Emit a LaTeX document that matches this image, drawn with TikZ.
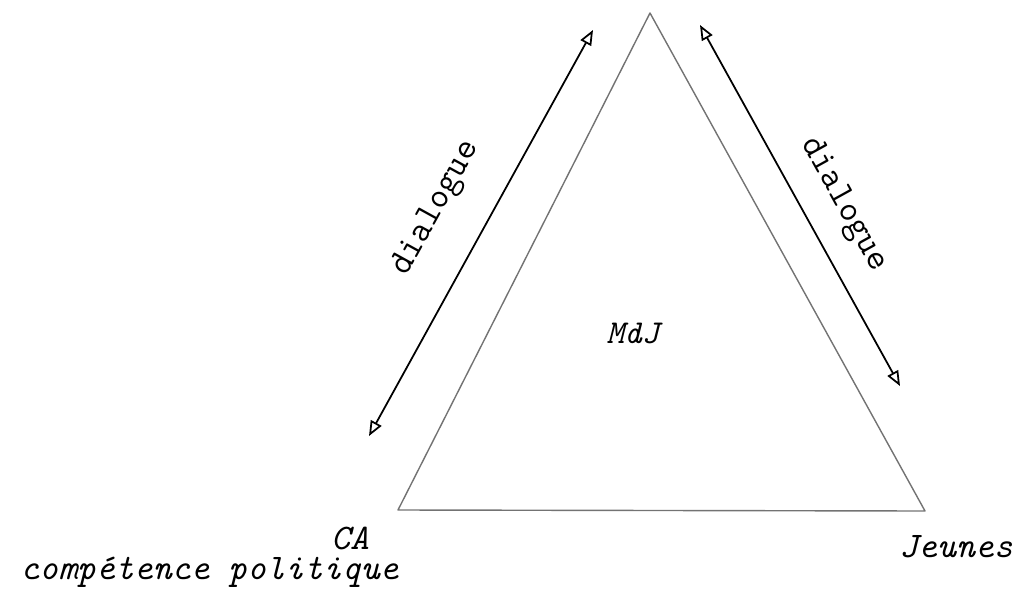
\documentclass[tikz,border=0pt]{standalone}
\usepackage{fontspec}
\usetikzlibrary{arrows.meta, positioning}

\begin{document}
\begin{tikzpicture}[x=0.02cm, y=-0.02cm, >={Triangle[open, length=0.3cm, width=0.24cm]},
	etiq/.style={font=\fontsize{20.5}{22}\selectfont\ttfamily\itshape, inner sep=0pt},
	dial/.style={font=\fontsize{20.5}{22}\selectfont\ttfamily, inner sep=0pt, sloped},
	cote/.style={draw=black!55, line width=0.8pt, line join=round},
	fleche/.style={<->, line width=1pt}]
	% --- Cadre ---
	\useasboundingbox (0,0) rectangle (1017,598);
	
	% --- Sommets du triangle ---
	\coordinate (top) at (650,13);
	\coordinate (ca) at (398,510);
	\coordinate (jeunes) at (925,511);
	
	% --- Triangle ---
	\draw[cote] (ca) -- (top) -- (jeunes) -- cycle;
	
	% --- Extremites des fleches ---
	\coordinate (g_bas) at (369,436);
	\coordinate (g_haut) at (593,30);
	\coordinate (d_haut) at (700,25);
	\coordinate (d_bas) at (900,386);
	
	% --- Fleches de dialogue ---
	\draw[fleche] (g_bas) -- node[dial, pos=0.5, above=0.7cm] {dialogue} (g_haut);
	\draw[fleche] (d_haut) -- node[dial, pos=0.55, above=0.45cm] {dialogue} (d_bas);
	
	% --- Etiquettes ---
	\node[etiq, font=\fontsize{19}{20}\selectfont\ttfamily\itshape] (mdj) at (633,333) {MdJ};
	\node[etiq] (lab_ca) at (350,538) {CA};
	\node[etiq] (lab_jeunes) at (956,547) {Jeunes};
	\node[etiq, anchor=east] (comp) at (399,572) {compétence politique};
\end{tikzpicture}
\end{document}
